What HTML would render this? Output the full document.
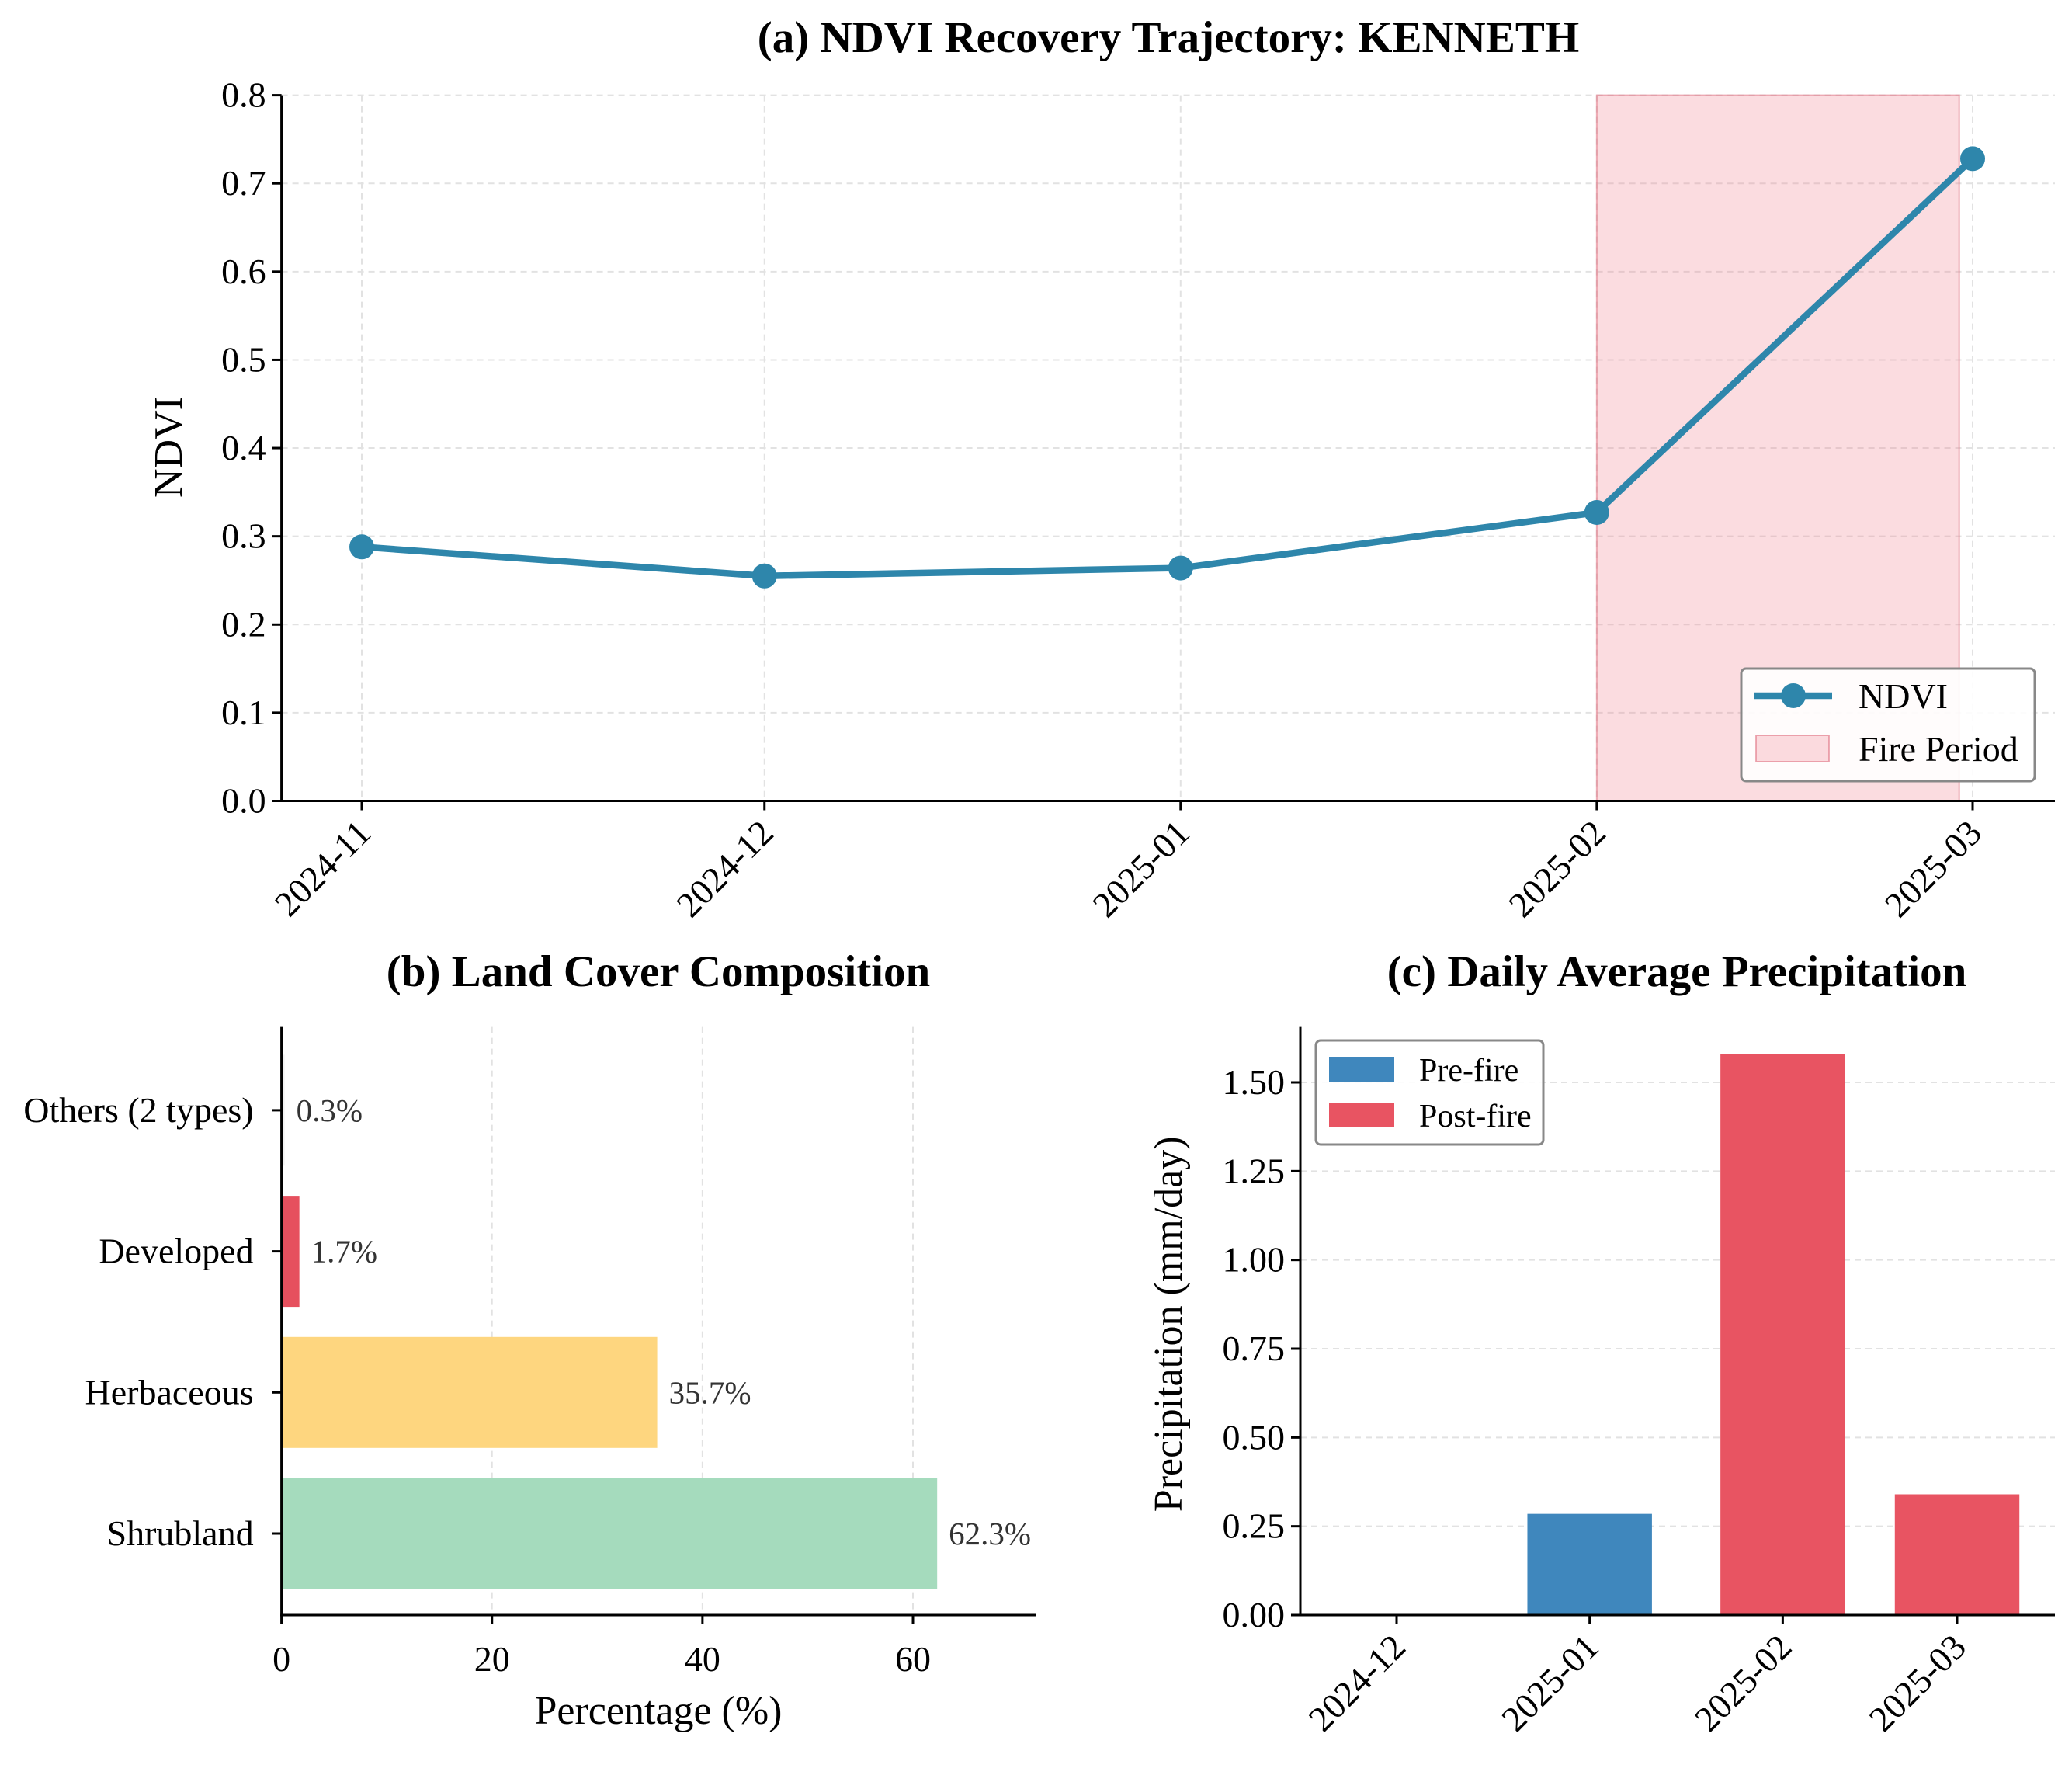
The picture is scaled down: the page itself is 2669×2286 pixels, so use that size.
<!DOCTYPE html>
<html><head><meta charset="utf-8"><style>
html,body{margin:0;padding:0;background:#fff}
svg{display:block;font-family:"Liberation Serif","DejaVu Serif",serif}
</style></head><body>
<svg id="chart" xmlns="http://www.w3.org/2000/svg" width="2669" height="2286" viewBox="0 0 2669 2286">
<rect width="2669" height="2286" fill="#fff"/>
<g id="ga"></g>
<g id="gb"></g>
<g id="gc"></g>
</svg>
<script>
// Panel (a)
const ndviDates = ["2024-11","2024-12","2025-01","2025-02","2025-03"];
const ndviDays = [0,30,61,92,120];
const ndviValues = [0.288,0.255,0.264,0.327,0.728];
const fireStartDay = 92, fireEndDay = 119;
const ndviTicks = [0,0.1,0.2,0.3,0.4,0.5,0.6,0.7,0.8];
// Panel (b)
const coverCats = ["Shrubland","Herbaceous","Developed","Others (2 types)"];
const coverValues = [62.3,35.7,1.7,0.3];
const coverLabels = ["62.3%","35.7%","1.7%","0.3%"];
const coverColors = ["#a5dbbd","#fed67f","#e6505e","#f2f2f2"];
const coverTicks = [0,20,40,60];
// Panel (c)
const precipDates = ["2024-12","2025-01","2025-02","2025-03"];
const precipDays = [0,31,62,90];
const precipValues = [0.003,0.285,1.58,0.34];
const precipPhase = ["pre","pre","post","post"];
const precipTicks = [0,0.25,0.5,0.75,1.0,1.25,1.5];
const precipTickLabels = ["0.00","0.25","0.50","0.75","1.00","1.25","1.50"];

const NS="http://www.w3.org/2000/svg";
const TF=46, LF=52, TITF=57;
function mk(parent,tag,attrs,text){const e=document.createElementNS(NS,tag);for(const k in attrs)e.setAttribute(k,attrs[k]);if(text!==undefined)e.textContent=text;parent.appendChild(e);return e;}

// ---------- Panel A ----------
(function(){
const g=document.getElementById('ga');
const L=362.6,R=2647,T=122.6,B=1031.5;
const x=d=>466+(d-0)*(2541-466)/120;
const y=v=>B-(v/0.8)*(B-T);
let t=mk(g,'text',{x:1505,y:67,'text-anchor':'middle','font-size':TITF,'font-weight':'bold',fill:'#000'},"(a) NDVI Recovery Trajectory: KENNETH");

ndviTicks.forEach(v=>{const gl=mk(g,'line',{x1:L,x2:R,y1:y(v),y2:y(v),stroke:'#e2e2e2','stroke-width':2,'stroke-dasharray':'8,6'});
});
ndviDays.forEach(d=>{const gl=mk(g,'line',{x1:x(d),x2:x(d),y1:T,y2:B,stroke:'#e2e2e2','stroke-width':2,'stroke-dasharray':'8,6'});
});
const fr=mk(g,'rect',{x:x(fireStartDay),y:T,width:x(fireEndDay)-x(fireStartDay),height:B-T,fill:'rgba(240,128,145,0.28)',stroke:'rgba(225,120,135,0.6)','stroke-width':2});

const pts=ndviDays.map((d,i)=>x(d)+','+y(ndviValues[i])).join(' ');
const pl=mk(g,'polyline',{points:pts,fill:'none',stroke:'#2e86ab','stroke-width':8.5,'stroke-linejoin':'round'});

ndviDays.forEach((d,i)=>{const c=mk(g,'circle',{cx:x(d),cy:y(ndviValues[i]),r:16,fill:'#2e86ab'});
});
mk(g,'line',{x1:L,x2:L,y1:T,y2:B+1.5,stroke:'#000','stroke-width':3});
mk(g,'line',{x1:L-1.5,x2:R,y1:B,y2:B,stroke:'#000','stroke-width':3});
ndviTicks.forEach(v=>{mk(g,'line',{x1:L-12,x2:L,y1:y(v),y2:y(v),stroke:'#000','stroke-width':3});
const tl=mk(g,'text',{x:L-20,y:y(v)+15,'text-anchor':'end','font-size':TF,fill:'#000'},v.toFixed(1));
});
ndviDays.forEach((d,i)=>{mk(g,'line',{x1:x(d),x2:x(d),y1:B,y2:B+12,stroke:'#000','stroke-width':3});
const tl=mk(g,'text',{x:0,y:0,'text-anchor':'end','font-size':TF,fill:'#000',transform:`translate(${x(d)+14},${B+44}) rotate(-45)`},ndviDates[i]);
});
const yl=mk(g,'text',{x:0,y:0,'text-anchor':'middle','font-size':LF,fill:'#000',transform:`translate(234,${(T+B)/2-1}) rotate(-90)`},"NDVI");

const lg=mk(g,'g',{});
mk(lg,'rect',{x:2243,y:861,width:378,height:145,rx:6,fill:'rgba(255,255,255,0.9)',stroke:'#888','stroke-width':3});
mk(lg,'line',{x1:2260,x2:2360,y1:896,y2:896,stroke:'#2e86ab','stroke-width':8.5});
mk(lg,'circle',{cx:2310,cy:896,r:16,fill:'#2e86ab'});
mk(lg,'text',{x:2394,y:912,'font-size':46,fill:'#000'},"NDVI");
mk(lg,'rect',{x:2262,y:947,width:94,height:34,fill:'rgba(240,128,145,0.28)',stroke:'rgba(225,120,135,0.6)','stroke-width':2});
mk(lg,'text',{x:2394,y:980,'font-size':46,fill:'#000'},"Fire Period");
})();

// ---------- Panel B ----------
(function(){
const g=document.getElementById('gb');
const L=362.6,R=1334.5,T=1322.6,B=2080;
const x=v=>L+v*(1176-362.6)/60;
const yc=i=>1975-i*181.7;
const bh=143;
const t=mk(g,'text',{x:848,y:1270,'text-anchor':'middle','font-size':TITF,'font-weight':'bold',fill:'#000'},"(b) Land Cover Composition");

coverTicks.forEach(v=>{if(v===0)return;const gl=mk(g,'line',{x1:x(v),x2:x(v),y1:T,y2:B,stroke:'#e2e2e2','stroke-width':2,'stroke-dasharray':'8,6'});
});
coverCats.forEach((c,i)=>{
const r=mk(g,'rect',{x:L,y:yc(i)-bh/2,width:x(coverValues[i])-L,height:bh,fill:coverColors[i]});

const vl=mk(g,'text',{x:x(coverValues[i])+15,y:yc(i)+14,'font-size':41,fill:'#333'},coverLabels[i]);

mk(g,'line',{x1:L-12,x2:L,y1:yc(i),y2:yc(i),stroke:'#000','stroke-width':3});
const cl=mk(g,'text',{x:L-36,y:yc(i)+15,'text-anchor':'end','font-size':TF,fill:'#000'},c);
});
mk(g,'line',{x1:L,x2:L,y1:T,y2:B+1.5,stroke:'#000','stroke-width':3});
mk(g,'line',{x1:L-1.5,x2:R,y1:B,y2:B,stroke:'#000','stroke-width':3});
coverTicks.forEach(v=>{mk(g,'line',{x1:x(v),x2:x(v),y1:B,y2:B+12,stroke:'#000','stroke-width':3});
const tl=mk(g,'text',{x:x(v),y:2152,'text-anchor':'middle','font-size':TF,fill:'#000'},String(v));
});
const xl=mk(g,'text',{x:848,y:2220,'text-anchor':'middle','font-size':LF,fill:'#000'},"Percentage (%)");

})();

// ---------- Panel C ----------
(function(){
const g=document.getElementById('gc');
const L=1675,R=2647,T=1322.6,B=2080;
const x=d=>1799+d*(2521-1799)/90;
const y=v=>B-v*(B-1394)/1.5;
const bw=20*(2521-1799)/90;
const t=mk(g,'text',{x:2160,y:1270,'text-anchor':'middle','font-size':TITF,'font-weight':'bold',fill:'#000'},"(c) Daily Average Precipitation");

precipTicks.forEach(v=>{if(v===0)return;const gl=mk(g,'line',{x1:L,x2:R,y1:y(v),y2:y(v),stroke:'#e2e2e2','stroke-width':2,'stroke-dasharray':'8,6'});
});
precipDays.forEach((d,i)=>{
const r=mk(g,'rect',{x:x(d)-bw/2,y:y(precipValues[i]),width:bw,height:B-y(precipValues[i]),fill:precipPhase[i]==='pre'?'#3f87bd':'#e85462'});

mk(g,'line',{x1:x(d),x2:x(d),y1:B,y2:B+12,stroke:'#000','stroke-width':3});
const tl=mk(g,'text',{x:0,y:0,'text-anchor':'end','font-size':TF,fill:'#000',transform:`translate(${x(d)+14},${B+44}) rotate(-45)`},precipDates[i]);
});
mk(g,'line',{x1:L,x2:L,y1:T,y2:B+1.5,stroke:'#000','stroke-width':3});
mk(g,'line',{x1:L-1.5,x2:R,y1:B,y2:B,stroke:'#000','stroke-width':3});
precipTicks.forEach((v,i)=>{mk(g,'line',{x1:L-12,x2:L,y1:y(v),y2:y(v),stroke:'#000','stroke-width':3});
const tl=mk(g,'text',{x:L-20,y:y(v)+15,'text-anchor':'end','font-size':TF,fill:'#000'},precipTickLabels[i]);
});
const yl=mk(g,'text',{x:0,y:0,'text-anchor':'middle','font-size':LF,fill:'#000',transform:`translate(1522,${(T+B)/2+4}) rotate(-90)`},"Precipitation (mm/day)");

const lg=mk(g,'g',{});
mk(lg,'rect',{x:1695,y:1340,width:293,height:134,rx:6,fill:'rgba(255,255,255,0.9)',stroke:'#888','stroke-width':3});
mk(lg,'rect',{x:1712,y:1361,width:84,height:32,fill:'#3f87bd'});
mk(lg,'text',{x:1828,y:1392,'font-size':42,fill:'#000'},"Pre-fire");
mk(lg,'rect',{x:1712,y:1420,width:84,height:32,fill:'#e85462'});
mk(lg,'text',{x:1828,y:1451,'font-size':42,fill:'#000'},"Post-fire");
})();
</script>
</body></html>
